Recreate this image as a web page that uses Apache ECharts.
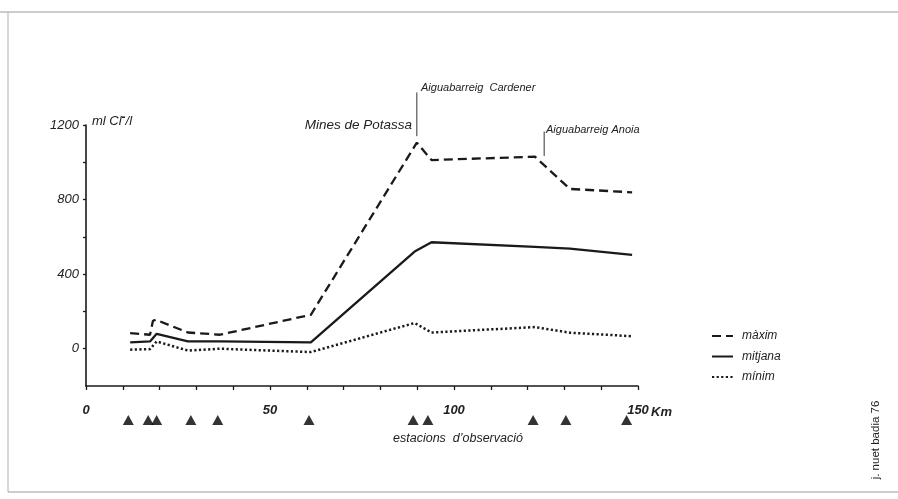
<!DOCTYPE html>
<html>
<head>
<meta charset="utf-8">
<script src="https://cdn.jsdelivr.net/npm/echarts@6/dist/echarts.min.js"></script>
<style>
html,body{margin:0;padding:0;background:#fff;}
#c{width:898px;height:499px;}
</style>
</head>
<body>
<div id="c"></div>
<script>
// distances along the river (km) of the vertices of each curve
const kmMax  = [12.0, 17.4, 18.2, 19.0, 27.7, 36.4, 61.1, 89.9, 93.9, 122.0, 131.5, 148.4];
const maxVals = [84, 75, 150, 155, 87, 75, 182, 1105, 1012, 1030, 857, 839];
const kmLine = [12.0, 17.4, 19.2, 27.7, 36.4, 61.1, 89.3, 93.9, 122.0, 131.5, 148.4];
const meanVals = [34, 39, 80, 39, 39, 34, 521, 571, 546, 537, 503];
const minVals  = [-5, -2, 39, -10, 0, -18, 138, 87, 116, 86, 67];
// observation stations (km)
const stationKm = [11.5, 16.9, 19.2, 28.5, 35.8, 60.6, 88.9, 92.9, 121.5, 130.4, 146.9];
// axes
const yTickValues = [0, 200, 400, 600, 800, 1000, 1200];
const yLabelValues = [0, 400, 800, 1200];
const xLabelValues = [0, 50, 100, 150];
const seriesNames = ['màxim', 'mitjana', 'mínim'];
// annotation leaders: [km, value from, value to]
const annoMines = [89.9, 1140, 1375];
const annoAnoia = [124.5, 1034, 1165];

const FONT = '"Liberation Sans", Arial, sans-serif';
const INK = '#1a1a1a';

const pair = (xs, ys) => xs.map((x, i) => [x, ys[i]]);

const chart = echarts.init(document.getElementById('c'), null, {renderer: 'canvas'});
const staticGraphics = [
  {type: 'line', shape: {x1: 0, y1: 12, x2: 898, y2: 12}, style: {stroke: '#9a9a9a', lineWidth: 1}},
  {type: 'line', shape: {x1: 8, y1: 12, x2: 8, y2: 492}, style: {stroke: '#b0b0b0', lineWidth: 1}},
  {type: 'line', shape: {x1: 8, y1: 492, x2: 898, y2: 492}, style: {stroke: '#9a9a9a', lineWidth: 1}},
  {type: 'text', x: 92, y: 121, style: {
    text: '{a|ml Cl}{s|-}{a|/l}', align: 'left', verticalAlign: 'middle',
    rich: {
      a: {font: 'italic 13px ' + FONT, fill: '#222', lineHeight: 16},
      s: {font: 'bold 12px ' + FONT, fill: '#222', lineHeight: 16, padding: [0, 0, 7, 0]}
    }
  }},
  {type: 'text', x: 412, y: 125, style: {text: 'Mines de Potassa', font: 'italic 13.5px ' + FONT, fill: '#222', align: 'right', verticalAlign: 'middle'}},
  {type: 'text', x: 421, y: 88, style: {text: 'Aiguabarreig  Cardener', font: 'italic 11px ' + FONT, fill: '#222', align: 'left', verticalAlign: 'middle'}},
  {type: 'text', x: 546, y: 130, style: {text: 'Aiguabarreig Anoia', font: 'italic 11px ' + FONT, fill: '#222', align: 'left', verticalAlign: 'middle'}},
  {type: 'text', x: 651, y: 412, style: {text: 'Km', font: 'italic bold 13px ' + FONT, fill: '#222', align: 'left', verticalAlign: 'middle'}},
  {type: 'text', x: 458, y: 439, style: {text: 'estacions  d\u2019observació', font: 'italic 12.5px ' + FONT, fill: '#222', align: 'center', verticalAlign: 'middle'}},
  {type: 'text', x: 876, y: 440, rotation: Math.PI / 2, style: {text: 'j. nuet badia 76', font: '11.5px ' + FONT, fill: '#222', align: 'center', verticalAlign: 'middle'}}
];

chart.setOption({
  animation: false,
  backgroundColor: '#ffffff',
  grid: [
    {left: 86, right: 260, top: 125, bottom: 113, containLabel: false, outerBoundsMode: 'none'},
    {left: 86, right: 260, top: 410, height: 20, containLabel: false, outerBoundsMode: 'none'}
  ],
  xAxis: [
    {
      type: 'value', gridIndex: 0, min: 0, max: 150, interval: 10,
      splitLine: {show: false},
      axisLine: {show: true, onZero: false, lineStyle: {color: INK, width: 1.6}},
      axisTick: {show: true, length: 4, lineStyle: {color: INK, width: 1.3}},
      axisLabel: {
        show: true, margin: 18, color: '#222',
        fontFamily: FONT, fontStyle: 'italic', fontWeight: 'bold', fontSize: 13,
        formatter: v => (xLabelValues.indexOf(v) >= 0 ? String(v) : '')
      }
    },
    {type: 'value', gridIndex: 1, min: 0, max: 150, show: false}
  ],
  yAxis: [
    {
      type: 'value', gridIndex: 0, min: -200, max: 1200, interval: 200,
      splitLine: {show: false},
      axisLine: {show: true, onZero: false, lineStyle: {color: INK, width: 1.6}},
      axisTick: {show: true, length: 3, customValues: yTickValues, lineStyle: {color: INK, width: 1.3}},
      axisLabel: {
        show: true, margin: 7, color: '#222', customValues: yLabelValues,
        fontFamily: FONT, fontStyle: 'italic', fontSize: 13,
        formatter: v => (yLabelValues.indexOf(v) >= 0 ? String(v) : '')
      }
    },
    {type: 'value', gridIndex: 1, min: 0, max: 1, show: false}
  ],
  legend: {
    orient: 'vertical', left: 706, top: 325,
    itemWidth: 21, itemHeight: 12, itemGap: 8.5,
    data: seriesNames,
    itemStyle: {opacity: 0},
    textStyle: {fontFamily: FONT, fontStyle: 'italic', fontSize: 12, color: '#222', lineHeight: 12, padding: [0, 0, 0, 4]}
  },
  series: [
    {
      name: seriesNames[0], type: 'line', xAxisIndex: 0, yAxisIndex: 0,
      data: pair(kmMax, maxVals), symbol: 'none', showSymbol: false,
      lineStyle: {color: INK, width: 2.3, type: [9, 5]},
      itemStyle: {color: INK}
    },
    {
      name: seriesNames[1], type: 'line', xAxisIndex: 0, yAxisIndex: 0,
      data: pair(kmLine, meanVals), symbol: 'none', showSymbol: false,
      lineStyle: {color: INK, width: 2.3, type: 'solid'},
      itemStyle: {color: INK}
    },
    {
      name: seriesNames[2], type: 'line', xAxisIndex: 0, yAxisIndex: 0,
      data: pair(kmLine, minVals), symbol: 'none', showSymbol: false,
      lineStyle: {color: INK, width: 2.5, type: [2.2, 2.4]},
      itemStyle: {color: INK}
    },
    {
      name: 'estacions', type: 'scatter', xAxisIndex: 1, yAxisIndex: 1,
      data: stationKm.map(k => [k, 0.5]),
      symbol: 'triangle', symbolSize: [11, 10],
      itemStyle: {color: '#000'}, silent: true
    }
  ],
  graphic: staticGraphics
});

// leader lines of the annotations, placed through the chart's own scales
function leader(a) {
  const p1 = chart.convertToPixel({gridIndex: 0}, [a[0], a[1]]);
  const p2 = chart.convertToPixel({gridIndex: 0}, [a[0], a[2]]);
  return {type: 'line', shape: {x1: p1[0], y1: p1[1], x2: p2[0], y2: p2[1]}, style: {stroke: '#333', lineWidth: 1}, silent: true};
}
chart.setOption({graphic: staticGraphics.concat([leader(annoMines), leader(annoAnoia)])});
</script>
</body>
</html>
